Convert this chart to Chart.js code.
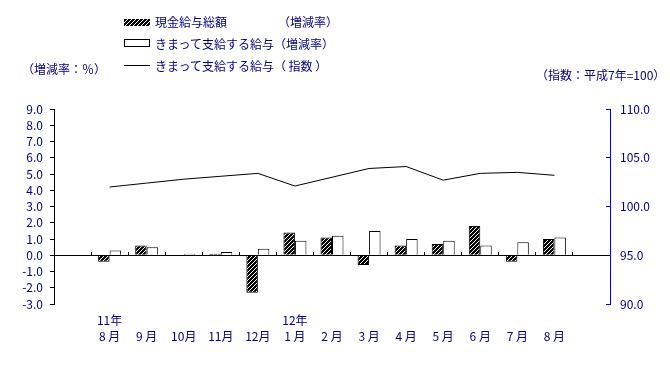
<!DOCTYPE html>
<html>
<head>
<meta charset="utf-8">
<script src="https://cdn.jsdelivr.net/npm/chart.js"></script>
<style>
  body { margin: 0; background: #fff; font-family: "Noto Sans CJK JP", sans-serif; }
  #wrap { position: relative; width: 670px; height: 382px; }
  .txt { position: absolute; font-size: 12px; color: #000080; line-height: 14px; white-space: pre; }
  .box { position: absolute; width: 26px; }
</style>
</head>
<body>
<div id="wrap">
  <canvas id="chart" width="670" height="382"></canvas>
  <div class="box" id="hatchBox" style="left:124px;top:19px;height:7px;background:#000;"></div>
  <div class="txt" style="left:155px;top:15px;">現金給与総額</div>
  <div class="txt" style="left:278px;top:15px;">（増減率）</div>
  <div class="box" style="left:124px;top:39px;height:6px;border:1px solid #000;width:24px;background:#fff;"></div>
  <div class="txt" style="left:155px;top:37px;">きまって支給する給与（増減率）</div>
  <div class="box" style="left:124px;top:65px;height:1px;background:#000;"></div>
  <div class="txt" style="left:155px;top:59px;">きまって支給する給与（ 指数 ）</div>
  <div class="txt" style="left:22px;top:62px;">（増減率：％）</div>
  <div class="txt" style="left:536px;top:68px;">（指数：平成7年=100）</div>
</div>
<script>
// 月・年ラベル（先頭と末尾は空きスペース）
const months = ['', '8 月', '9 月', '10月', '11月', '12月', '1 月', '2 月', '3 月', '4 月', '5 月', '6 月', '7 月', '8 月', ''];
const years  = ['', '11年', '', '', '', '', '12年', '', '', '', '', '', '', '', ''];

// 現金給与総額（増減率）
const cashTotal = [null, -0.4, 0.6, 0.0, 0.1, -2.3, 1.4, 1.1, -0.6, 0.6, 0.7, 1.8, -0.4, 1.0, null];
// きまって支給する給与（増減率）
const regularPay = [null, 0.3, 0.5, 0.1, 0.2, 0.4, 0.9, 1.2, 1.5, 1.0, 0.9, 0.6, 0.8, 1.1, null];
// きまって支給する給与（指数）
const regularIndex = [null, 102.0, 102.4, 102.8, 103.1, 103.4, 102.1, 103.0, 103.9, 104.1, 102.7, 103.4, 103.5, 103.2, null];

const leftTicks = [-3, 9, 1];
const rightTicks = [90, 110, 5];

// 斜線パターン
const pc = document.createElement('canvas');
pc.width = 4; pc.height = 4;
const pctx = pc.getContext('2d');
pctx.fillStyle = '#000';
pctx.fillRect(0, 0, 4, 4);
pctx.fillStyle = '#fff';
for (let i = 0; i < 4; i++) pctx.fillRect(3 - i, i, 1, 1);
const hatch = pctx.createPattern(pc, 'repeat');
document.getElementById('hatchBox').style.background = 'url(' + pc.toDataURL() + ')';

const labels = months.map((m, i) => [years[i], m]);
const navy = '#000080';
const font = { family: '"Noto Sans CJK JP", sans-serif', size: 12 };

new Chart(document.getElementById('chart'), {
  type: 'bar',
  data: {
    labels: labels,
    datasets: [
      {
        type: 'line',
        label: 'きまって支給する給与（ 指数 ）',
        data: regularIndex,
        yAxisID: 'y1',
        borderColor: '#000',
        borderWidth: 1,
        pointRadius: 0,
        tension: 0,
        order: 0
      },
      {
        label: '現金給与総額（増減率）',
        data: cashTotal,
        backgroundColor: hatch,
        borderColor: '#000',
        borderWidth: 1,
        yAxisID: 'y',
        order: 1
      },
      {
        label: 'きまって支給する給与（増減率）',
        data: regularPay,
        backgroundColor: '#fff',
        borderColor: '#000',
        borderWidth: 1,
        yAxisID: 'y',
        order: 1
      }
    ]
  },
  options: {
    responsive: false,
    animation: false,
    categoryPercentage: 0.62,
    barPercentage: 1,
    layout: { padding: { top: 109, bottom: 0, left: 0, right: 0 } },
    plugins: { legend: { display: false }, tooltip: { enabled: false } },
    scales: {
      x: {
        offset: true,
        grid: { display: false, drawTicks: false, offset: true },
        border: { display: false },
        ticks: { color: navy, font: Object.assign({ lineHeight: 1.35 }, font), padding: 8, maxRotation: 0, autoSkip: false },
        afterFit: s => { s.height = 78; }
      },
      x2: {
        type: 'category',
        labels: labels,
        position: { y: 0 },
        offset: true,
        grid: { drawOnChartArea: false, offset: true, tickLength: -4, color: '#000' },
        border: { color: '#000' },
        ticks: { display: false }
      },
      y: {
        position: 'left',
        min: leftTicks[0], max: leftTicks[1],
        ticks: { stepSize: leftTicks[2], autoSkip: false, color: navy, font: font, padding: 7, callback: v => v.toFixed(1) },
        grid: { drawOnChartArea: false, tickLength: 4, color: '#000' },
        border: { color: '#000' },
        afterFit: s => { s.width = 54; }
      },
      y1: {
        position: 'right',
        min: rightTicks[0], max: rightTicks[1],
        ticks: { stepSize: rightTicks[2], autoSkip: false, color: navy, font: font, padding: 14, callback: v => v.toFixed(1) },
        grid: { drawOnChartArea: false, tickLength: -4, color: '#0000ff' },
        border: { color: '#0000ff' },
        afterFit: s => { s.width = 60; }
      }
    }
  }
});
</script>
</body>
</html>
